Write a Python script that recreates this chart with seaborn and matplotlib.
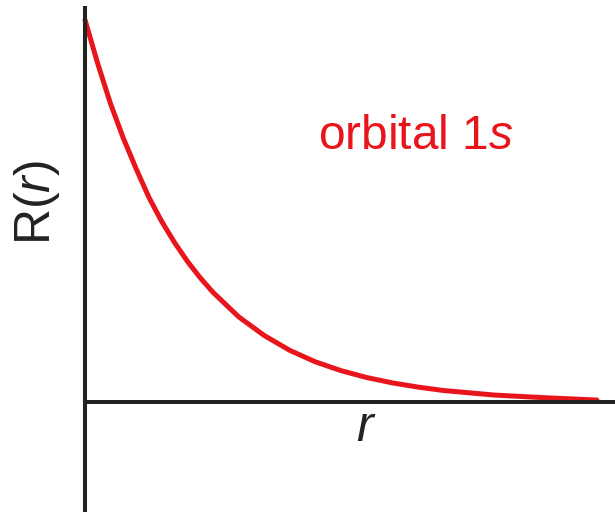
import matplotlib
matplotlib.use("Agg")
import matplotlib.pyplot as plt
import seaborn as sns
import pandas as pd

# Radial part of the hydrogen 1s orbital, sampled along r
r_values = [0.0, 0.125, 0.25, 0.375, 0.5, 0.625, 0.75, 0.875, 1.0, 1.125, 1.25,
            1.5, 1.75, 2.0, 2.25, 2.5, 2.75, 3.0, 3.25, 3.5, 3.75, 4.0, 4.5, 5.0]
R_values = [1.0, 0.885, 0.78, 0.69, 0.61, 0.535, 0.472, 0.417, 0.368, 0.325, 0.287,
            0.223, 0.174, 0.135, 0.105, 0.082, 0.064, 0.05, 0.039, 0.030, 0.024,
            0.018, 0.011, 0.005]

curve_label = "orbital 1$\\mathit{s}$"
y_label = "R($\\mathit{r}$)"
x_label = "$\\mathit{r}$"

sns.set_theme(style="white")
plt.rcParams["font.family"] = ["Liberation Sans", "DejaVu Sans"]
plt.rcParams["mathtext.fontset"] = "custom"
plt.rcParams["mathtext.rm"] = "Liberation Sans"
plt.rcParams["mathtext.it"] = "Liberation Sans:italic"

df = pd.DataFrame({"r": r_values, "R": R_values})

fig = plt.figure(figsize=(6.15, 5.12), dpi=100)
ax = fig.add_axes([0, 0, 1, 1])

red = "#e8161c"
axis_col = "#222222"

sns.lineplot(data=df, x="r", y="R", ax=ax, color=red, linewidth=3.6,
             solid_capstyle="round")

xmin, xmax = -0.830, 5.176
ymin, ymax = -0.288, 1.052
ax.set_xlim(xmin, xmax)
ax.set_ylim(ymin, ymax)

# Axes drawn as spines crossing at the origin
for side in ["top", "right"]:
    ax.spines[side].set_visible(False)
ax.spines["left"].set_position(("data", 0))
ax.spines["bottom"].set_position(("data", 0))
ax.spines["left"].set_bounds(-0.283, 1.031)
ax.spines["bottom"].set_bounds(0, xmax)
for side in ["left", "bottom"]:
    ax.spines[side].set_color(axis_col)
    ax.spines[side].set_linewidth(2.9)
ax.set_xticks([])
ax.set_yticks([])
ax.set_xlabel("")
ax.set_ylabel("")
ax.set_facecolor("white")

ax.text(2.275, 0.662, curve_label, color=red, fontsize=34.5,
        ha="left", va="baseline")
ax.text(-0.469, 0.521, y_label, color=axis_col, fontsize=36,
        rotation=90, ha="center", va="center")
ax.text(2.744, -0.068, x_label, color=axis_col, fontsize=36,
        ha="center", va="center")

fig.savefig("out.png", dpi=100, facecolor="white")
